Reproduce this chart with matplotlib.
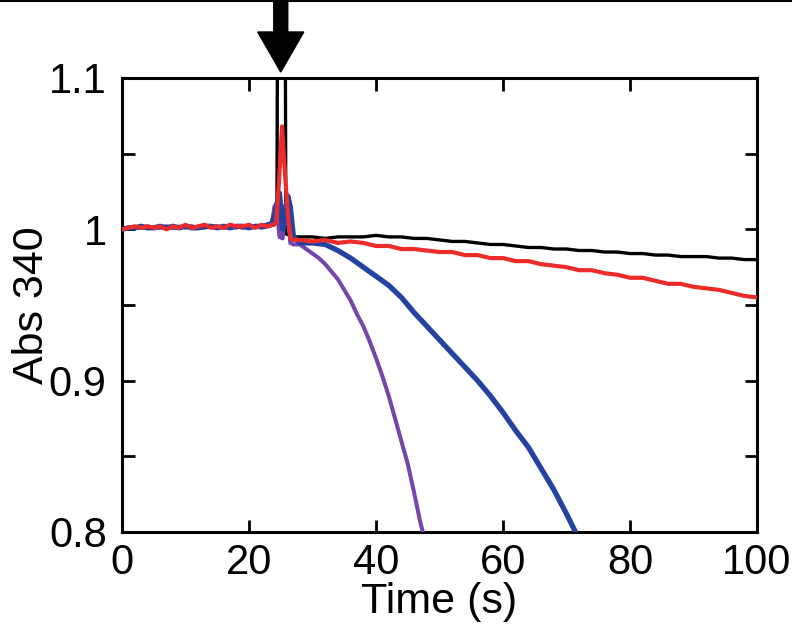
import matplotlib
matplotlib.use("Agg")
import matplotlib.pyplot as plt
from matplotlib.patches import Polygon
from matplotlib.lines import Line2D
from matplotlib import font_manager

# ---------------- data ----------------
pre_time = list(range(0, 24))

black_time = pre_time + [24.0, 24.4, 24.5, 25.7, 25.8, 26.5, 27.0] + list(range(28, 101, 2))
black_abs = [1.000, 1.000, 1.001, 1.001, 1.001, 1.001, 1.002, 1.001, 1.001, 1.002, 1.001, 1.002,
             1.001, 1.002, 1.002, 1.001, 1.002, 1.002, 1.001, 1.002, 1.002, 1.002, 1.002, 1.002,
             1.003, 1.010, 1.160, 1.160, 0.997, 0.996, 0.995,
             0.995, 0.995, 0.994, 0.995, 0.995, 0.995, 0.996, 0.995, 0.995, 0.994, 0.994, 0.993,
             0.992, 0.992, 0.991, 0.990, 0.990, 0.989, 0.988, 0.988, 0.987, 0.987, 0.986, 0.986,
             0.985, 0.985, 0.984, 0.984, 0.983, 0.983, 0.982, 0.982, 0.982, 0.981, 0.981, 0.980, 0.980]

red_time = pre_time + [24.3, 24.7, 25.2, 25.7, 26.2, 26.6, 27.0] + list(range(28, 101, 2))
red_abs = [1.000, 1.001, 1.002, 1.001, 1.002, 1.001, 1.002, 1.000, 1.002, 1.001, 1.003, 1.001,
           1.002, 1.003, 1.001, 1.002, 1.001, 1.003, 1.002, 1.002, 1.003, 1.001, 1.003, 1.002,
           1.004, 1.030, 1.068, 1.035, 1.005, 0.994, 0.993,
           0.993, 0.992, 0.993, 0.991, 0.992, 0.991, 0.989, 0.989, 0.987, 0.987, 0.986, 0.985,
           0.985, 0.983, 0.983, 0.981, 0.981, 0.979, 0.979, 0.977, 0.976, 0.975, 0.973, 0.973,
           0.971, 0.970, 0.968, 0.968, 0.966, 0.964, 0.964, 0.962, 0.961, 0.960, 0.958, 0.956, 0.955]

blue_time = pre_time + [23.6, 24.2, 24.8, 25.3, 25.5, 26.1, 26.5, 27.0] + list(range(28, 73, 2))
blue_abs = [1.000, 1.001, 1.001, 1.002, 1.001, 1.001, 1.002, 1.001, 1.002, 1.001, 1.002, 1.001,
            1.001, 1.002, 1.002, 1.001, 1.002, 1.001, 1.002, 1.002, 1.001, 1.002, 1.002, 1.003,
            1.004, 1.012, 1.024, 1.000, 1.001, 1.022, 1.015, 0.995,
            0.991, 0.991, 0.990, 0.986, 0.981, 0.975, 0.969, 0.963, 0.955, 0.945, 0.936, 0.927,
            0.918, 0.909, 0.900, 0.890, 0.879, 0.867, 0.856, 0.842, 0.828, 0.812, 0.795]

purple_time = pre_time + [23.6, 24.0, 24.3, 24.8, 25.3, 25.7, 26.1, 26.5, 27.0] + list(range(28, 49))
purple_abs = [1.000, 1.001, 1.001, 1.001, 1.002, 1.001, 1.001, 1.002, 1.001, 1.001, 1.002, 1.002,
              1.001, 1.001, 1.002, 1.002, 1.001, 1.002, 1.002, 1.001, 1.002, 1.002, 1.001, 1.002,
              1.003, 1.015, 1.017, 0.995, 0.994, 1.016, 1.017, 0.991, 0.990,
              0.990, 0.987, 0.984, 0.981, 0.977, 0.972, 0.967, 0.960, 0.953, 0.944, 0.936,
              0.926, 0.915, 0.903, 0.890, 0.875, 0.860, 0.845, 0.826, 0.806, 0.790]

x_ticks = [0, 20, 40, 60, 80, 100]
y_ticks = [0.8, 0.9, 1.0, 1.1]
y_tick_labels = ["0.8", "0.9", "1", "1.1"]
y_minor_ticks = [0.85, 0.95, 1.05]
arrow_time = 25

# ---------------- style ----------------
names = {f.name for f in font_manager.fontManager.ttflist}
fam = [f for f in ["Liberation Sans Narrow", "Liberation Sans", "DejaVu Sans"] if f in names]
plt.rcParams["font.family"] = fam

fig = plt.figure(figsize=(7.92, 6.38), dpi=100)
ax = fig.add_axes([122 / 792, 1 - 532 / 638, (757 - 122) / 792, (532 - 78) / 638])

ax.plot(black_time, black_abs, color="#000000", lw=2.4, zorder=3)
ax.plot(purple_time, purple_abs, color="#7445ab", lw=2.9, zorder=4)
ax.plot(blue_time, blue_abs, color="#2443a0", lw=3.8, zorder=5)
ax.plot(red_time, red_abs, color="#ee2b2b", lw=3.0, zorder=6)

ax.set_xlim(0, 100)
ax.set_ylim(0.8, 1.1)
ax.set_xticks(x_ticks)
ax.set_xticklabels([str(v) for v in x_ticks])
ax.set_yticks(y_ticks)
ax.set_yticklabels(y_tick_labels)
ax.set_yticks(y_minor_ticks, minor=True)

ax.tick_params(which="both", direction="in", top=True, right=True, width=2, length=9,
               labelsize=30)
ax.tick_params(axis="x", pad=8)
ax.tick_params(axis="y", pad=11)
for s in ax.spines.values():
    s.set_linewidth(2.2)

ax.set_xlabel("Time (s)", fontsize=31, va="top")
ax.set_ylabel("Abs 340", fontsize=31)
ax.xaxis.set_label_coords(0.5, (532 - 582) / 454)
ax.yaxis.set_label_coords((52 - 122) / 635, 0.5)

# arrow pointing at injection time
x_per_px = 100 / (757 - 122)
y_per_px = 0.3 / (532 - 78)
tip_y = 1.1 + 6 * y_per_px
top_y = 1.1 + 80 * y_per_px
neck_y = tip_y + 40 * y_per_px
sw = 7 * x_per_px
hw = 23 * x_per_px
arrow = Polygon([[arrow_time - sw, top_y], [arrow_time + sw, top_y], [arrow_time + sw, neck_y],
                 [arrow_time + hw, neck_y], [arrow_time, tip_y], [arrow_time - hw, neck_y],
                 [arrow_time - sw, neck_y]], closed=True, color="black", clip_on=False, zorder=10)
ax.add_patch(arrow)

fig.add_artist(Line2D([0, 1], [0.998, 0.998], color="black", lw=1.5, transform=fig.transFigure))

fig.savefig("out.png", dpi=100)
